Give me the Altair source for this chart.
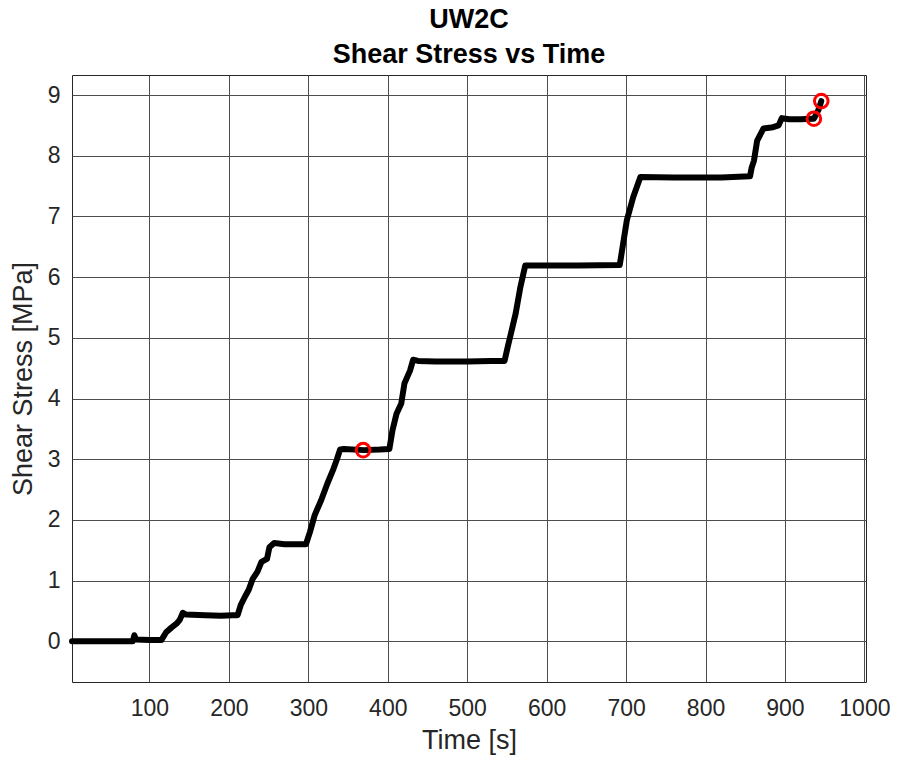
import altair as alt
import pandas as pd

# Shear stress history (time in s, stress in MPa)
time_s = [2.5, 40, 79, 81, 83, 100, 115, 121, 128, 134, 138, 142, 146, 170, 190, 205, 211,
          215, 220, 225, 230, 236, 241, 248, 251, 257, 270, 285, 297, 302, 308, 316, 324,
          331, 336, 340, 345, 370, 390, 402, 406, 411, 417, 421, 428, 432, 438, 460, 500,
          530, 547, 551, 555, 561, 567, 573, 580, 640, 692, 701, 709, 718, 760, 820, 856,
          858, 861, 865, 873, 885, 892, 896, 905, 920, 934, 936.4, 938, 942, 945.7]
stress_mpa = [0.0, 0.0, 0.0, 0.1, 0.03, 0.02, 0.02, 0.15, 0.23, 0.29, 0.35, 0.47, 0.44, 0.43,
              0.42, 0.43, 0.43, 0.6, 0.73, 0.85, 1.03, 1.15, 1.31, 1.36, 1.55, 1.62, 1.60,
              1.60, 1.60, 1.80, 2.08, 2.32, 2.6, 2.82, 3.0, 3.16, 3.17, 3.15, 3.16, 3.17, 3.48,
              3.75, 3.92, 4.25, 4.46, 4.64, 4.62, 4.61, 4.61, 4.62, 4.62, 4.85, 5.07, 5.40,
              5.84, 6.19, 6.19, 6.19, 6.20, 6.94, 7.32, 7.65, 7.64, 7.64, 7.66, 7.8, 7.92,
              8.25, 8.45, 8.47, 8.5, 8.62, 8.60, 8.60, 8.61, 8.61, 8.65, 8.75, 8.90]

# Marked points
mark_time = [369, 936.4, 945.7]
mark_stress = [3.15, 8.61, 8.90]

x_ticks = [100, 200, 300, 400, 500, 600, 700, 800, 900, 1000]
y_ticks = [0, 1, 2, 3, 4, 5, 6, 7, 8, 9]

series = pd.DataFrame({"t": time_s, "tau": stress_mpa})
marks = pd.DataFrame({"t": mark_time, "tau": mark_stress})

FONT = "Liberation Sans"
TXT = "#262626"

x_enc = alt.X("t:Q", title="Time [s]",
              scale=alt.Scale(domain=[2.5, 1002], nice=False, zero=False),
              axis=alt.Axis(values=x_ticks, format="d"))
y_enc = alt.Y("tau:Q", title="Shear Stress [MPa]",
              scale=alt.Scale(domain=[-0.67, 9.33], nice=False, zero=False),
              axis=alt.Axis(values=y_ticks, format="d"))

line = alt.Chart(series).mark_line(color="black", strokeWidth=6, strokeJoin="round",
                                   strokeCap="round").encode(x=x_enc, y=y_enc, order="t:Q")

points = alt.Chart(marks).mark_point(shape="circle", filled=False, color="#ff0000",
                                     strokeWidth=3, size=185, opacity=1).encode(
    x="t:Q", y="tau:Q")

chart = (
    alt.layer(line, points)
    .properties(
        width=794,
        height=607,
        autosize=alt.AutoSizeParams(type="none"),
        padding={"left": 72, "top": 75, "right": 31, "bottom": 81},
        title=alt.TitleParams(
            ["UW2C", "Shear Stress vs Time"],
            font=FONT, fontSize=27, fontWeight="bold", color="black",
            anchor="middle", lineHeight=35, offset=6,
        ),
    )
    .configure_view(stroke="#262626", strokeWidth=1)
    .configure_axis(
        labelFont=FONT, labelFontSize=23, labelColor=TXT,
        titleFont=FONT, titleFontSize=27, titleColor=TXT, titleFontWeight="normal",
        grid=True, gridColor="#4d4d4d", gridWidth=1, gridOpacity=1,
        domain=False, ticks=False,
    )
    .configure_axisX(labelPadding=15, titlePadding=7)
    .configure_axisY(labelPadding=12, titlePadding=10)
)

chart.save("out.html", embed_options={"renderer": "svg", "actions": False})
